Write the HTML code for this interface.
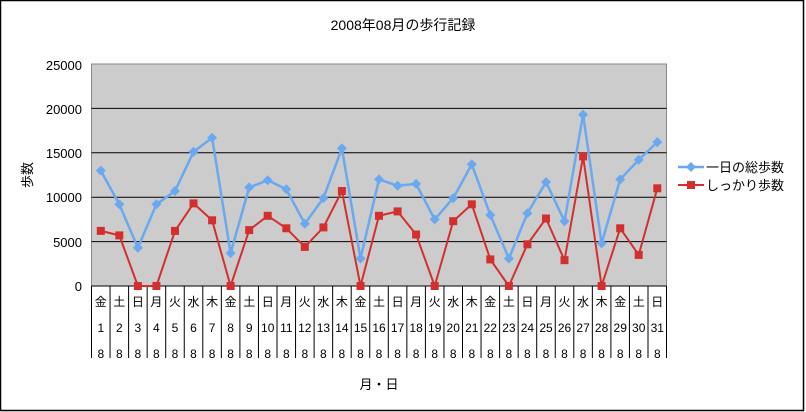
<!DOCTYPE html>
<html><head><meta charset="utf-8"><style>
html,body{margin:0;padding:0;background:#fff}
svg{display:block}
text{font-family:"Liberation Sans","Noto Sans CJK JP",sans-serif;fill:#000}
</style></head><body>
<svg width="806" height="412" viewBox="0 0 806 412" xmlns="http://www.w3.org/2000/svg">
<rect x="0.5" y="0.5" width="803" height="410" fill="#fff" stroke="#000" stroke-width="1.5"/>
<text x="403" y="30" font-size="14" text-anchor="middle">2008年08月の歩行記録</text>
<rect x="91.5" y="64" width="575" height="222" fill="#cccccc" stroke="#888" stroke-width="1"/>
<g stroke="#000" stroke-width="1">
<line x1="91.5" y1="108.4" x2="666.5" y2="108.4"/>
<line x1="91.5" y1="152.8" x2="666.5" y2="152.8"/>
<line x1="91.5" y1="197.2" x2="666.5" y2="197.2"/>
<line x1="91.5" y1="241.6" x2="666.5" y2="241.6"/>
<line x1="91.5" y1="286" x2="666.5" y2="286"/>
</g>
<g font-size="13" text-anchor="end">
<text x="82" y="70">25000</text><text x="82" y="114">20000</text><text x="82" y="158">15000</text>
<text x="82" y="202">10000</text><text x="82" y="247">5000</text><text x="82" y="291">0</text>
</g>
<text x="32" y="175" font-size="13" text-anchor="middle" transform="rotate(-90 32 175)">歩数</text>
<g stroke="#000" stroke-width="1">
<line x1="91.5" y1="286" x2="91.5" y2="358"/><line x1="110.05" y1="286" x2="110.05" y2="358"/><line x1="128.6" y1="286" x2="128.6" y2="358"/><line x1="147.15" y1="286" x2="147.15" y2="358"/><line x1="165.7" y1="286" x2="165.7" y2="358"/><line x1="184.25" y1="286" x2="184.25" y2="358"/><line x1="202.8" y1="286" x2="202.8" y2="358"/><line x1="221.35" y1="286" x2="221.35" y2="358"/><line x1="239.9" y1="286" x2="239.9" y2="358"/><line x1="258.45" y1="286" x2="258.45" y2="358"/><line x1="277" y1="286" x2="277" y2="358"/><line x1="295.55" y1="286" x2="295.55" y2="358"/><line x1="314.1" y1="286" x2="314.1" y2="358"/><line x1="332.65" y1="286" x2="332.65" y2="358"/><line x1="351.2" y1="286" x2="351.2" y2="358"/><line x1="369.75" y1="286" x2="369.75" y2="358"/><line x1="388.3" y1="286" x2="388.3" y2="358"/><line x1="406.85" y1="286" x2="406.85" y2="358"/><line x1="425.4" y1="286" x2="425.4" y2="358"/><line x1="443.95" y1="286" x2="443.95" y2="358"/><line x1="462.5" y1="286" x2="462.5" y2="358"/><line x1="481.05" y1="286" x2="481.05" y2="358"/><line x1="499.6" y1="286" x2="499.6" y2="358"/><line x1="518.15" y1="286" x2="518.15" y2="358"/><line x1="536.7" y1="286" x2="536.7" y2="358"/><line x1="555.25" y1="286" x2="555.25" y2="358"/><line x1="573.8" y1="286" x2="573.8" y2="358"/><line x1="592.35" y1="286" x2="592.35" y2="358"/><line x1="610.9" y1="286" x2="610.9" y2="358"/><line x1="629.45" y1="286" x2="629.45" y2="358"/><line x1="648" y1="286" x2="648" y2="358"/><line x1="666.5" y1="286" x2="666.5" y2="358"/>
</g>
<g font-size="12" text-anchor="middle">
<text x="100.8" y="306">金</text><text x="119.3" y="306">土</text><text x="137.9" y="306">日</text><text x="156.4" y="306">月</text><text x="175.0" y="306">火</text><text x="193.5" y="306">水</text><text x="212.1" y="306">木</text><text x="230.6" y="306">金</text><text x="249.2" y="306">土</text><text x="267.7" y="306">日</text><text x="286.3" y="306">月</text><text x="304.8" y="306">火</text><text x="323.4" y="306">水</text><text x="341.9" y="306">木</text><text x="360.5" y="306">金</text><text x="379.0" y="306">土</text><text x="397.6" y="306">日</text><text x="416.1" y="306">月</text><text x="434.7" y="306">火</text><text x="453.2" y="306">水</text><text x="471.8" y="306">木</text><text x="490.3" y="306">金</text><text x="508.9" y="306">土</text><text x="527.4" y="306">日</text><text x="546.0" y="306">月</text><text x="564.5" y="306">火</text><text x="583.1" y="306">水</text><text x="601.6" y="306">木</text><text x="620.2" y="306">金</text><text x="638.7" y="306">土</text><text x="657.3" y="306">日</text>
</g>
<g font-size="12" text-anchor="middle">
<text x="100.8" y="332">1</text><text x="119.3" y="332">2</text><text x="137.9" y="332">3</text><text x="156.4" y="332">4</text><text x="175.0" y="332">5</text><text x="193.5" y="332">6</text><text x="212.1" y="332">7</text><text x="230.6" y="332">8</text><text x="249.2" y="332">9</text><text x="267.7" y="332">10</text><text x="286.3" y="332">11</text><text x="304.8" y="332">12</text><text x="323.4" y="332">13</text><text x="341.9" y="332">14</text><text x="360.5" y="332">15</text><text x="379.0" y="332">16</text><text x="397.6" y="332">17</text><text x="416.1" y="332">18</text><text x="434.7" y="332">19</text><text x="453.2" y="332">20</text><text x="471.8" y="332">21</text><text x="490.3" y="332">22</text><text x="508.9" y="332">23</text><text x="527.4" y="332">24</text><text x="546.0" y="332">25</text><text x="564.5" y="332">26</text><text x="583.1" y="332">27</text><text x="601.6" y="332">28</text><text x="620.2" y="332">29</text><text x="638.7" y="332">30</text><text x="657.3" y="332">31</text>
</g>
<g font-size="12" text-anchor="middle">
<text x="100.8" y="358">8</text><text x="119.3" y="358">8</text><text x="137.9" y="358">8</text><text x="156.4" y="358">8</text><text x="175.0" y="358">8</text><text x="193.5" y="358">8</text><text x="212.1" y="358">8</text><text x="230.6" y="358">8</text><text x="249.2" y="358">8</text><text x="267.7" y="358">8</text><text x="286.3" y="358">8</text><text x="304.8" y="358">8</text><text x="323.4" y="358">8</text><text x="341.9" y="358">8</text><text x="360.5" y="358">8</text><text x="379.0" y="358">8</text><text x="397.6" y="358">8</text><text x="416.1" y="358">8</text><text x="434.7" y="358">8</text><text x="453.2" y="358">8</text><text x="471.8" y="358">8</text><text x="490.3" y="358">8</text><text x="508.9" y="358">8</text><text x="527.4" y="358">8</text><text x="546.0" y="358">8</text><text x="564.5" y="358">8</text><text x="583.1" y="358">8</text><text x="601.6" y="358">8</text><text x="620.2" y="358">8</text><text x="638.7" y="358">8</text><text x="657.3" y="358">8</text>
</g>
<text x="379" y="389" font-size="13" text-anchor="middle">月・日</text>
<polyline fill="none" stroke="#6aa8ef" stroke-width="2.5" stroke-linejoin="round" points="100.8,170.6 119.3,204.3 137.9,247.8 156.4,204.3 175.0,191.0 193.5,151.9 212.1,137.7 230.6,253.1 249.2,187.4 267.7,180.3 286.3,189.2 304.8,223.8 323.4,198.1 341.9,148.4 360.5,258.5 379.0,179.4 397.6,185.7 416.1,183.9 434.7,219.4 453.2,198.1 471.8,164.3 490.3,215.0 508.9,258.5 527.4,213.2 546.0,182.1 564.5,221.2 583.1,114.6 601.6,243.4 620.2,179.4 638.7,159.9 657.3,142.1"/>
<polyline fill="none" stroke="#d42f2f" stroke-width="2" stroke-linejoin="round" points="100.8,230.9 119.3,235.4 137.9,286 156.4,286 175.0,230.9 193.5,203.4 212.1,220.3 230.6,286 249.2,230.1 267.7,215.8 286.3,228.3 304.8,246.9 323.4,227.4 341.9,191.0 360.5,286 379.0,215.8 397.6,211.4 416.1,234.5 434.7,286 453.2,221.2 471.8,204.3 490.3,259.4 508.9,286 527.4,244.3 546.0,218.5 564.5,260.2 583.1,156.4 601.6,286 620.2,228.3 638.7,254.9 657.3,188.3"/>
<g fill="#6aa8ef">
<path d="M100.8,165.6l5,5l-5,5l-5,-5z"/><path d="M119.3,199.3l5,5l-5,5l-5,-5z"/><path d="M137.9,242.8l5,5l-5,5l-5,-5z"/><path d="M156.4,199.3l5,5l-5,5l-5,-5z"/><path d="M175.0,186.0l5,5l-5,5l-5,-5z"/><path d="M193.5,146.9l5,5l-5,5l-5,-5z"/><path d="M212.1,132.7l5,5l-5,5l-5,-5z"/><path d="M230.6,248.1l5,5l-5,5l-5,-5z"/><path d="M249.2,182.4l5,5l-5,5l-5,-5z"/><path d="M267.7,175.3l5,5l-5,5l-5,-5z"/><path d="M286.3,184.2l5,5l-5,5l-5,-5z"/><path d="M304.8,218.8l5,5l-5,5l-5,-5z"/><path d="M323.4,193.1l5,5l-5,5l-5,-5z"/><path d="M341.9,143.4l5,5l-5,5l-5,-5z"/><path d="M360.5,253.5l5,5l-5,5l-5,-5z"/><path d="M379.0,174.4l5,5l-5,5l-5,-5z"/><path d="M397.6,180.7l5,5l-5,5l-5,-5z"/><path d="M416.1,178.9l5,5l-5,5l-5,-5z"/><path d="M434.7,214.4l5,5l-5,5l-5,-5z"/><path d="M453.2,193.1l5,5l-5,5l-5,-5z"/><path d="M471.8,159.3l5,5l-5,5l-5,-5z"/><path d="M490.3,210.0l5,5l-5,5l-5,-5z"/><path d="M508.9,253.5l5,5l-5,5l-5,-5z"/><path d="M527.4,208.2l5,5l-5,5l-5,-5z"/><path d="M546.0,177.1l5,5l-5,5l-5,-5z"/><path d="M564.5,216.2l5,5l-5,5l-5,-5z"/><path d="M583.1,109.6l5,5l-5,5l-5,-5z"/><path d="M601.6,238.4l5,5l-5,5l-5,-5z"/><path d="M620.2,174.4l5,5l-5,5l-5,-5z"/><path d="M638.7,154.9l5,5l-5,5l-5,-5z"/><path d="M657.3,137.1l5,5l-5,5l-5,-5z"/>
</g>
<g fill="#d42f2f">
<rect x="96.8" y="226.9" width="8" height="8"/><rect x="115.3" y="231.4" width="8" height="8"/><rect x="133.9" y="282" width="8" height="8"/><rect x="152.4" y="282" width="8" height="8"/><rect x="171.0" y="226.9" width="8" height="8"/><rect x="189.5" y="199.4" width="8" height="8"/><rect x="208.1" y="216.3" width="8" height="8"/><rect x="226.6" y="282" width="8" height="8"/><rect x="245.2" y="226.1" width="8" height="8"/><rect x="263.7" y="211.8" width="8" height="8"/><rect x="282.3" y="224.3" width="8" height="8"/><rect x="300.8" y="242.9" width="8" height="8"/><rect x="319.4" y="223.4" width="8" height="8"/><rect x="337.9" y="187.0" width="8" height="8"/><rect x="356.5" y="282" width="8" height="8"/><rect x="375.0" y="211.8" width="8" height="8"/><rect x="393.6" y="207.4" width="8" height="8"/><rect x="412.1" y="230.5" width="8" height="8"/><rect x="430.7" y="282" width="8" height="8"/><rect x="449.2" y="217.2" width="8" height="8"/><rect x="467.8" y="200.3" width="8" height="8"/><rect x="486.3" y="255.4" width="8" height="8"/><rect x="504.9" y="282" width="8" height="8"/><rect x="523.4" y="240.3" width="8" height="8"/><rect x="542.0" y="214.5" width="8" height="8"/><rect x="560.5" y="256.2" width="8" height="8"/><rect x="579.1" y="152.4" width="8" height="8"/><rect x="597.6" y="282" width="8" height="8"/><rect x="616.2" y="224.3" width="8" height="8"/><rect x="634.7" y="250.9" width="8" height="8"/><rect x="653.3" y="184.3" width="8" height="8"/>
</g>
<line x1="678" y1="167" x2="704" y2="167" stroke="#6aa8ef" stroke-width="2.5"/>
<path d="M691,162l5,5l-5,5l-5,-5z" fill="#6aa8ef"/>
<text x="706" y="172" font-size="13">一日の総歩数</text>
<line x1="678" y1="185" x2="704" y2="185" stroke="#d42f2f" stroke-width="2"/>
<rect x="687" y="181" width="8" height="8" fill="#d42f2f"/>
<text x="706" y="190" font-size="13">しっかり歩数</text>
</svg>
</body></html>
